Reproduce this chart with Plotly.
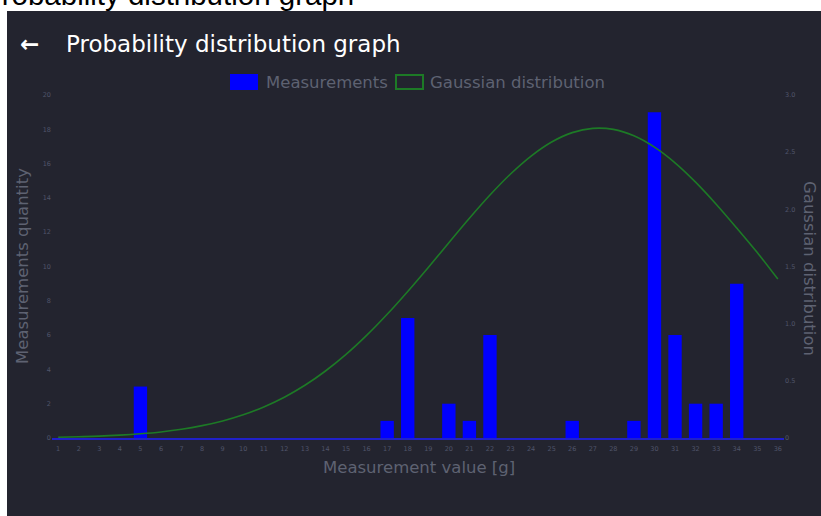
import plotly.graph_objects as go

# Measurement values [g] shown on the x axis
values = list(range(1, 37))

# Number of measurements per value
bar_x = [5, 17, 18, 20, 21, 22, 26, 29, 30, 31, 32, 33, 34]
bar_counts = [3, 1, 7, 2, 1, 6, 1, 1, 19, 6, 2, 2, 9]

# Gaussian distribution curve, one point per value
gauss = [0.007, 0.011, 0.016, 0.025, 0.037, 0.053, 0.076, 0.108, 0.149, 0.203,
         0.272, 0.357, 0.461, 0.586, 0.731, 0.897, 1.082, 1.282, 1.492, 1.708,
         1.922, 2.125, 2.309, 2.466, 2.589, 2.671, 2.708, 2.699, 2.643, 2.544,
         2.407, 2.238, 2.045, 1.837, 1.622, 1.390]

left_ticks = list(range(0, 21, 2))
right_ticks = [0, 0.5, 1.0, 1.5, 2.0, 2.5, 3.0]
right_tick_text = ["0", "0.5", "1.0", "1.5", "2.0", "2.5", "3.0"]

W, H = 821, 516
L, R, T, B = 52, 37, 95, 78
PW, PH = W - L - R, H - T - B


def px(x):
    return (x - L) / PW


def py(y):
    return (H - B - y) / PH


BG = "#23242f"
DIM = "#50546a"
TXT = "#5e6272"
BLUE = "#0000ff"
GREEN = "#1d7a26"
FONT = "DejaVu Sans"
LBL = 16.5

fig = go.Figure()
fig.add_trace(go.Bar(x=bar_x, y=bar_counts, marker=dict(color=BLUE, line=dict(width=0)),
                     name="Measurements", yaxis="y"))
fig.add_trace(go.Scatter(x=values, y=gauss, mode="lines", line=dict(color=GREEN, width=1.6, shape="spline"),
                         name="Gaussian distribution", yaxis="y2"))

fig.update_layout(
    width=W, height=H,
    margin=dict(l=L, r=R, t=T, b=B),
    paper_bgcolor="white",
    plot_bgcolor="rgba(0,0,0,0)",
    showlegend=False,
    bargap=0.35,
    font=dict(family=FONT, color=TXT),
    xaxis=dict(range=[0.7, 36.3], tickmode="array", tickvals=values,
               ticktext=[str(v) for v in values], tickfont=dict(size=6.5, color=DIM),
               showgrid=False, zeroline=False, showline=True, linecolor="#2020c8", linewidth=2,
               ticks="", ticklabelstandoff=3),
    yaxis=dict(range=[0, 20], tickvals=left_ticks, ticktext=[str(v) for v in left_ticks],
               tickfont=dict(size=6.5, color=DIM), showgrid=False, zeroline=False, ticks=""),
    yaxis2=dict(range=[0, 3.0], overlaying="y", side="right", tickvals=right_ticks,
                ticktext=right_tick_text, tickfont=dict(size=6.5, color=DIM),
                showgrid=False, zeroline=False, ticks=""),
)

shapes = [
    # dark panel
    dict(type="rect", xref="paper", yref="paper", x0=px(7), x1=px(830), y0=py(530), y1=py(11),
         fillcolor=BG, line=dict(width=0), layer="below"),
    # legend swatches
    dict(type="rect", xref="paper", yref="paper", x0=px(230), x1=px(258), y0=py(90), y1=py(74),
         fillcolor=BLUE, line=dict(width=0)),
    dict(type="rect", xref="paper", yref="paper", x0=px(396), x1=px(423), y0=py(89), y1=py(75),
         fillcolor="rgba(0,0,0,0)", line=dict(color=GREEN, width=2)),
]
fig.update_layout(shapes=shapes)

annotations = [
    dict(text="Probability distribution graph", x=px(-20), y=py(-5), xanchor="left", yanchor="middle",
         font=dict(family="Liberation Sans", size=29.5, color="black")),
    dict(text="<b>←</b>", x=px(18), y=py(44), xanchor="left", yanchor="middle",
         font=dict(family=FONT, size=23, color="white")),
    dict(text="Probability distribution graph", x=px(64), y=py(44), xanchor="left", yanchor="middle",
         font=dict(family=FONT, size=23, color="white")),
    dict(text="Measurements", x=px(264), y=py(82), xanchor="left", yanchor="middle",
         font=dict(family=FONT, size=LBL, color=TXT)),
    dict(text="Gaussian distribution", x=px(428), y=py(82), xanchor="left", yanchor="middle",
         font=dict(family=FONT, size=LBL, color=TXT)),
    dict(text="Measurement value [g]", x=px(419), y=py(467), xanchor="center", yanchor="middle",
         font=dict(family=FONT, size=LBL, color=TXT)),
    dict(text="Measurements quantity", x=px(22), y=py(266), xanchor="center", yanchor="middle",
         textangle=-90, font=dict(family=FONT, size=LBL, color=TXT)),
    dict(text="Gaussian distribution", x=px(810), y=py(268), xanchor="center", yanchor="middle",
         textangle=90, font=dict(family=FONT, size=LBL, color=TXT)),
]
for a in annotations:
    a.update(xref="paper", yref="paper", showarrow=False)
fig.update_layout(annotations=annotations)

fig.write_html("out.html")
